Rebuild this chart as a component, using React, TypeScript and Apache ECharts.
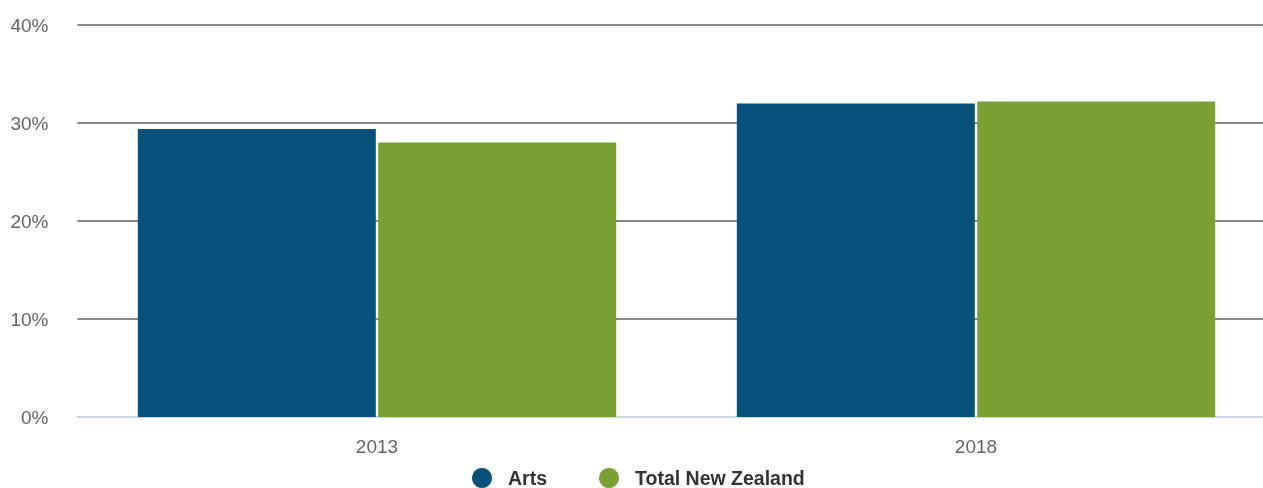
import React, { useEffect, useRef } from "react";
import * as echarts from "echarts";

const categories = ["2013", "2018"];
const artsValues = [29.4, 32.0];
const totalNZValues = [28.0, 32.2];
const seriesNames = ["Arts", "Total New Zealand"];
const colors = ["#08517a", "#78a032"];

export default function App() {
  const ref = useRef<HTMLDivElement>(null);
  useEffect(() => {
    const chart = echarts.init(ref.current!, null, { renderer: "svg" });
    chart.setOption({
      animation: false,
      legend: {
        bottom: -5,
        left: 467,
        icon: "circle",
        itemWidth: 20,
        itemHeight: 20,
        itemGap: 52,
        textStyle: { fontFamily: "Liberation Sans, Arial, sans-serif", fontSize: 19.5, fontWeight: "bold", color: "#333", padding: [0, 0, 0, 11] },
        data: seriesNames,
      },
      grid: { left: 77.5, width: 1198, top: 25, bottom: 71, outerBoundsMode: "none" },
      xAxis: {
        type: "category",
        data: categories,
        axisLine: { lineStyle: { color: "#ccd6eb", width: 2 } },
        axisTick: { show: false },
        axisLabel: { fontFamily: "Liberation Sans, Arial, sans-serif", fontSize: 19, color: "#666", margin: 20 },
      },
      yAxis: {
        type: "value",
        min: 0,
        max: 40,
        interval: 10,
        axisLabel: { formatter: "{value}%", fontFamily: "Liberation Sans, Arial, sans-serif", fontSize: 19, color: "#666", margin: 29 },
        splitLine: { lineStyle: { color: "#888", width: 2 } },
      },
      series: [
        { name: seriesNames[0], type: "bar", data: artsValues, barWidth: 238, barGap: "1%", itemStyle: { color: colors[0] } },
        { name: seriesNames[1], type: "bar", data: totalNZValues, barWidth: 238, barGap: "1%", itemStyle: { color: colors[1] } },
      ],
    });
    return () => chart.dispose();
  }, []);
  return <div ref={ref} style={{ position: "fixed", left: 0, top: 0, width: 1263, height: 488 }} />;
}
